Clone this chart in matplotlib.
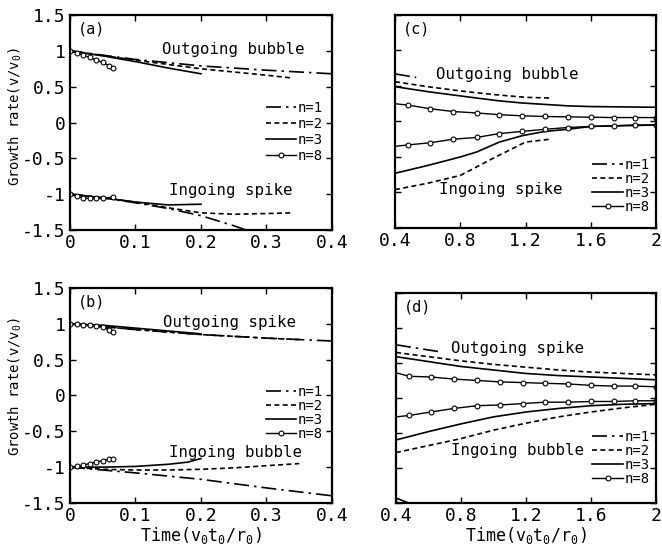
import matplotlib
matplotlib.use('Agg')
from matplotlib import pyplot as plt

plt.rcParams['font.family'] = ['DejaVu Sans Mono']
plt.rcParams['mathtext.fontset'] = 'custom'
plt.rcParams['mathtext.rm'] = 'DejaVu Sans Mono'
plt.rcParams['mathtext.it'] = 'DejaVu Sans Mono'
plt.rcParams['mathtext.default'] = 'rm'

# ---- (a) outgoing bubble / ingoing spike, early time ----
a_x1 = [0, 0.1, 0.2, 0.3, 0.4]
a_up1 = [1.0, 0.88, 0.79, 0.73, 0.68]
a_x2 = [0, 0.1, 0.2, 0.3, 0.34]
a_up2 = [1.0, 0.87, 0.75, 0.66, 0.62]
a_x3 = [0, 0.05, 0.1, 0.15, 0.2]
a_up3 = [1.0, 0.93, 0.85, 0.76, 0.68]
a_x8 = [0, 0.01, 0.02, 0.03, 0.04, 0.05, 0.06, 0.066]
a_up8 = [1.0, 0.97, 0.94, 0.91, 0.87, 0.84, 0.79, 0.76]
a_xl1 = [0, 0.05, 0.1, 0.15, 0.2, 0.25, 0.3]
a_lo1 = [-1.0, -1.05, -1.12, -1.2, -1.3, -1.44, -1.6]
a_xl2 = [0, 0.05, 0.1, 0.15, 0.2, 0.25, 0.3, 0.34]
a_lo2 = [-1.0, -1.05, -1.11, -1.19, -1.26, -1.28, -1.27, -1.26]
a_lo3 = [-1.0, -1.05, -1.11, -1.15, -1.14]
a_xl8 = [0, 0.01, 0.02, 0.03, 0.04, 0.05, 0.066]
a_lo8 = [-1.0, -1.03, -1.05, -1.06, -1.06, -1.06, -1.04]

# ---- (b) outgoing spike / ingoing bubble, early time ----
b_x1 = [0, 0.1, 0.2, 0.3, 0.4]
b_up1 = [1.0, 0.92, 0.85, 0.80, 0.76]
b_x2 = [0, 0.1, 0.2, 0.3, 0.35]
b_up2 = [1.0, 0.92, 0.85, 0.80, 0.78]
b_x3 = [0, 0.05, 0.1, 0.15, 0.2]
b_up3 = [1.0, 0.98, 0.94, 0.90, 0.86]
b_x8 = [0, 0.01, 0.02, 0.03, 0.04, 0.05, 0.06, 0.066]
b_up8 = [1.0, 1.0, 0.99, 0.98, 0.97, 0.95, 0.92, 0.89]
b_lo1 = [-1.0, -1.08, -1.17, -1.29, -1.40]
b_xl2 = [0, 0.05, 0.1, 0.15, 0.2, 0.25, 0.3, 0.35]
b_lo2 = [-1.0, -1.03, -1.04, -1.04, -1.03, -1.01, -0.98, -0.95]
b_xl3 = [0, 0.05, 0.1, 0.15, 0.18, 0.2]
b_lo3 = [-1.0, -1.0, -0.99, -0.96, -0.93, -0.88]
b_lo8 = [-1.0, -0.99, -0.97, -0.95, -0.93, -0.91, -0.89, -0.88]

# ---- (c) late time, outgoing bubble / ingoing spike ----
c_x1 = [0.4, 0.53]
c_up1 = [0.67, 0.62]
c_x2 = [0.4, 0.6, 0.8, 1.0, 1.2, 1.35]
c_up2 = [0.56, 0.49, 0.43, 0.38, 0.34, 0.33]
c_lo2 = [-0.96, -0.87, -0.76, -0.52, -0.29, -0.25]
c_x3 = [0.4, 0.6, 0.8, 0.9, 1.04, 1.18, 1.32, 1.46, 1.6, 2.0]
c_up3 = [0.49, 0.42, 0.36, 0.33, 0.29, 0.26, 0.24, 0.22, 0.21, 0.20]
c_lo3 = [-0.73, -0.62, -0.50, -0.43, -0.29, -0.20, -0.14, -0.11, -0.07, -0.05]
c_x8 = [0.4, 0.48, 0.615, 0.756, 0.9, 1.04, 1.18, 1.32, 1.46, 1.6, 1.74, 1.87, 2.0]
c_up8 = [0.25, 0.23, 0.18, 0.14, 0.12, 0.095, 0.08, 0.07, 0.065, 0.06, 0.055, 0.055, 0.055]
c_lo8 = [-0.35, -0.33, -0.30, -0.25, -0.225, -0.17, -0.14, -0.11, -0.085, -0.07, -0.06, -0.05, -0.05]

# ---- (d) late time, outgoing spike / ingoing bubble ----
d_x1 = [0.4, 0.67]
d_up1 = [0.76, 0.66]
d_xl1 = [0.4, 0.5]
d_lo1 = [-1.43, -1.52]
d_x = [0.4, 0.6, 0.8, 1.0, 1.2, 1.4, 1.6, 1.8, 2.0]
d_up2 = [0.65, 0.59, 0.53, 0.48, 0.44, 0.40, 0.37, 0.35, 0.33]
d_lo2 = [-0.78, -0.68, -0.58, -0.46, -0.36, -0.27, -0.20, -0.14, -0.09]
d_up3 = [0.59, 0.52, 0.45, 0.40, 0.35, 0.32, 0.30, 0.28, 0.26]
d_lo3 = [-0.60, -0.48, -0.37, -0.27, -0.20, -0.15, -0.11, -0.09, -0.08]
d_x8 = [0.4, 0.48, 0.615, 0.756, 0.9, 1.04, 1.18, 1.32, 1.46, 1.6, 1.74, 1.87, 2.0]
d_up8 = [0.36, 0.31, 0.30, 0.27, 0.25, 0.23, 0.22, 0.21, 0.20, 0.18, 0.17, 0.17, 0.16]
d_lo8 = [-0.27, -0.25, -0.20, -0.15, -0.11, -0.10, -0.08, -0.06, -0.06, -0.05, -0.05, -0.04, -0.04]

labels = ['n=1', 'n=2', 'n=3', 'n=8']
y_ticks = [-1.5, -1, -0.5, 0, 0.5, 1, 1.5]
y_tick_labels = ['-1.5', '-1', '-0.5', '0', '0.5', '1', '1.5']
early_ticks = [0, 0.1, 0.2, 0.3, 0.4]
early_tick_labels = ['0', '0.1', '0.2', '0.3', '0.4']
late_ticks = [0.4, 0.8, 1.2, 1.6, 2.0]
late_tick_labels = ['0.4', '0.8', '1.2', '1.6', '2']

s1 = dict(color='black', lw=1.2, dashes=(9, 3, 1.5, 3))
s2 = dict(color='black', lw=1.2, dashes=(3, 2))
s3 = dict(color='black', lw=1.2)
s8 = dict(color='black', lw=1.0, marker='o', ms=3.5, mfc='white', mew=0.8)

fig = plt.figure(figsize=(6.62, 5.5), dpi=100)
ax_a = fig.add_axes([0.1057, 0.5818, 0.3958, 0.3909])
ax_c = fig.add_axes([0.5967, 0.5855, 0.3943, 0.3873])
ax_b = fig.add_axes([0.1057, 0.0855, 0.3958, 0.3909])
ax_d = fig.add_axes([0.5982, 0.0855, 0.3927, 0.3818])

# (a)
ax_a.plot(a_x1, a_up1, label=labels[0], **s1)
ax_a.plot(a_x2, a_up2, label=labels[1], **s2)
ax_a.plot(a_x3, a_up3, label=labels[2], **s3)
ax_a.plot(a_x8, a_up8, label=labels[3], **s8)
ax_a.plot(a_xl1, a_lo1, **s1)
ax_a.plot(a_xl2, a_lo2, **s2)
ax_a.plot(a_x3, a_lo3, **s3)
ax_a.plot(a_xl8, a_lo8, **s8)

# (b)
ax_b.plot(b_x1, b_up1, label=labels[0], **s1)
ax_b.plot(b_x2, b_up2, label=labels[1], **s2)
ax_b.plot(b_x3, b_up3, label=labels[2], **s3)
ax_b.plot(b_x8, b_up8, label=labels[3], **s8)
ax_b.plot(b_x1, b_lo1, **s1)
ax_b.plot(b_xl2, b_lo2, **s2)
ax_b.plot(b_xl3, b_lo3, **s3)
ax_b.plot(b_x8, b_lo8, **s8)

# (c)
ax_c.plot(c_x1, c_up1, label=labels[0], **s1)
ax_c.plot(c_x2, c_up2, label=labels[1], **s2)
ax_c.plot(c_x3, c_up3, label=labels[2], **s3)
ax_c.plot(c_x8, c_up8, label=labels[3], markevery=slice(1, None), **s8)
ax_c.plot(c_x2, c_lo2, **s2)
ax_c.plot(c_x3, c_lo3, **s3)
ax_c.plot(c_x8, c_lo8, markevery=slice(1, None), **s8)

# (d)
ax_d.plot(d_x1, d_up1, label=labels[0], **s1)
ax_d.plot(d_x, d_up2, label=labels[1], **s2)
ax_d.plot(d_x, d_up3, label=labels[2], **s3)
ax_d.plot(d_x8, d_up8, label=labels[3], markevery=slice(1, None), **s8)
ax_d.plot(d_xl1, d_lo1, **s1)
ax_d.plot(d_x, d_lo2, **s2)
ax_d.plot(d_x, d_lo3, **s3)
ax_d.plot(d_x8, d_lo8, markevery=slice(1, None), **s8)

txt = dict(fontsize=11.3, ha='center', va='center')
ax_a.text(0.249, 1.02, 'Outgoing bubble', **txt)
ax_a.text(0.245, -0.95, 'Ingoing spike', **txt)
ax_b.text(0.244, 1.02, 'Outgoing spike', **txt)
ax_b.text(0.252, -0.80, 'Ingoing bubble', **txt)
ax_c.text(1.09, 0.66, 'Outgoing bubble', **txt)
ax_c.text(1.05, -0.96, 'Ingoing spike', **txt)
ax_d.text(1.145, 0.70, 'Outgoing spike', **txt)
ax_d.text(1.145, -0.75, 'Ingoing bubble', **txt)

for ax, tag in [(ax_a, '(a)'), (ax_b, '(b)'), (ax_c, '(c)'), (ax_d, '(d)')]:
    ax.text(0.03, 0.97, tag, transform=ax.transAxes, fontsize=11, va='top', ha='left')

# legend anchor and row spacing per panel
for ax, loc, sp in [(ax_a, (0.975, 0.614), 0.15), (ax_b, (0.975, 0.56), 0.0),
                    (ax_c, (0.985, 0.343), 0.0), (ax_d, (0.985, 0.362), 0.0)]:
    ax.legend(loc='upper right', bbox_to_anchor=loc, frameon=False, fontsize=10,
              handlelength=2.2, handletextpad=0.1, labelspacing=sp,
              borderaxespad=0.1, borderpad=0.1, numpoints=1)

for ax in [ax_a, ax_b, ax_c, ax_d]:
    ax.set_ylim(-1.5, 1.5)
    ax.set_yticks(y_ticks)
    ax.tick_params(direction='in', top=True, right=True, length=4, width=1,
                   labelsize=13, pad=3)
    for sp in ax.spines.values():
        sp.set_linewidth(1.6)

for ax, ly in [(ax_a, 0.526), (ax_b, 0.54)]:
    ax.set_xlim(0, 0.4)
    ax.set_xticks(early_ticks)
    ax.set_xticklabels(early_tick_labels)
    ax.set_yticklabels(y_tick_labels)
    ax.set_ylabel('Growth rate(v/v$_0$)', fontsize=10)
    ax.yaxis.set_label_coords(-0.175, ly)

for ax in [ax_c, ax_d]:
    ax.set_xlim(0.4, 2.0)
    ax.set_xticks(late_ticks)
    ax.set_xticklabels(late_tick_labels)
    ax.set_yticklabels([])

for ax in [ax_b, ax_d]:
    ax.set_xlabel('Time(v$_0$t$_0$/r$_0$)', fontsize=12, labelpad=0)

fig.savefig('out.png', dpi=100)
